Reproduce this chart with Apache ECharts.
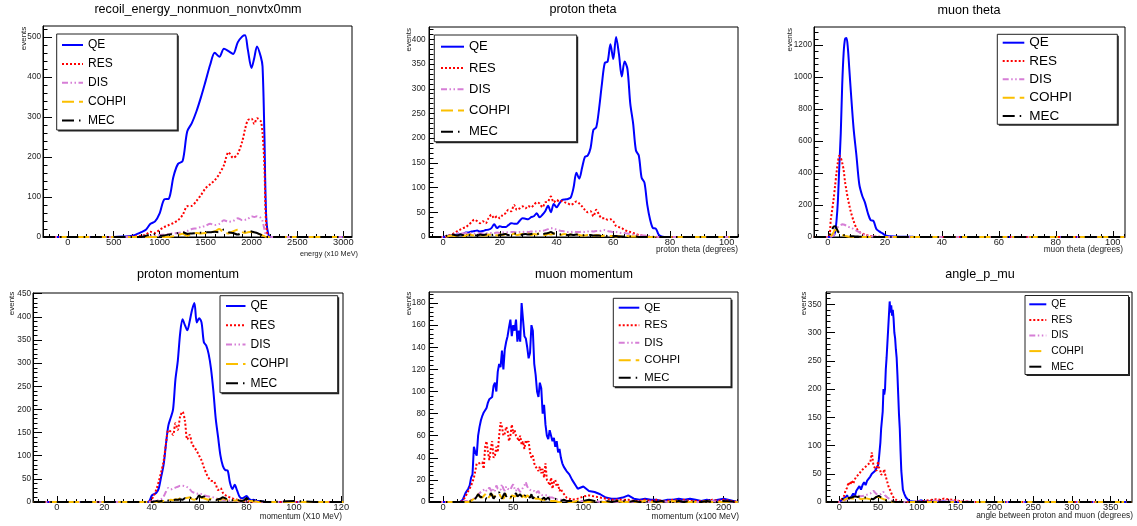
<!DOCTYPE html>
<html>
<head>
<meta charset="utf-8">
<script src="https://cdn.jsdelivr.net/npm/echarts@6/dist/echarts.min.js"></script>
<style>
    html, body {margin: 0; padding: 0; background: #fff;}
    #chart {width: 1137px; height: 526px;}
</style>
</head>
<body>
<div id="chart"></div>
<script>
// ---- data ----
const NAMES = ['QE', 'RES', 'DIS', 'COHPI', 'MEC'];

// recoil_energy_nonmuon_nonvtx0mm
const p1X = [-270, 0, 300, 500, 600, 700, 800, 850, 900, 950, 1000, 1050, 1100, 1150, 1200, 1250, 1300, 1350, 1400, 1450,
    1500, 1550, 1600, 1650, 1700, 1750, 1800, 1850, 1900, 1930, 1960, 2000, 2030, 2060, 2100, 2120, 2140, 2160, 2190, 2250,
    2500, 2800, 3094];
const p1QE = [0, 0, 0, 0, 1, 3, 12, 18, 33, 39, 59, 94, 96, 151, 183, 190, 264, 285, 314, 350,
    390, 431, 461, 451, 471, 465, 458, 487, 502, 505, 469, 423, 448, 477, 452, 427, 260, 51, 3, 0,
    0, 0, 0];
const p1RES = [0, 0, 0, 0, 0, 1, 3, 6, 13, 10, 18, 25, 30, 35, 42, 55, 77, 78, 90, 105,
    122, 132, 142, 158, 180, 212, 198, 208, 240, 270, 292, 296, 283, 297, 290, 260, 180, 30, 0, 0,
    0, 0, 0];
const p1DIS = [0, 0, 0, 0, 0, 0, 1, 2, 3, 3, 5, 6, 8, 9, 10, 12, 15, 20, 22, 25,
    28, 33, 30, 33, 42, 38, 40, 47, 42, 43, 45, 52, 50, 52, 48, 40, 20, 4, 0, 0,
    0, 0, 0];
const p1COHPI = [0, 0, 0, 0, 0, 0, 0, 0, 0, 0, 0, 0, 0, 2, 5, 8, 3, 8, 10, 9,
    10, 12, 14, 20, 10, 9, 14, 18, 12, 10, 12, 13, 10, 8, 6, 4, 2, 0, 0, 0,
    0, 0, 0];
const p1MEC = [0, 0, 0, 0, 0, 0, 0, 3, 6, 7, 3, 4, 6, 8, 10, 12, 8, 9, 10, 11,
    12, 12, 13, 12, 19, 12, 10, 6, 11, 14, 15, 14, 12, 10, 6, 4, 2, 0, 0, 0,
    0, 0, 0];
const p1XTicks = [0, 500, 1000, 1500, 2000, 2500, 3000];
const p1YTicks = [0, 100, 200, 300, 400, 500];

// proton theta
const p2X = [-5,
    0, 1, 2, 3, 4, 5, 6, 7, 8, 9,
    10, 11, 12, 13, 14, 15, 16, 17, 18, 19,
    20, 21, 22, 23, 24, 25, 26, 27, 28, 29,
    30, 31, 32, 33, 34, 35, 36, 37, 38, 39,
    40, 41, 42, 43, 44, 45, 46, 47, 48, 49,
    50, 51, 52, 53, 54, 55, 56, 57, 58, 59,
    60, 61, 62, 63, 64, 65, 66, 67, 68, 69,
    70, 71, 72, 73, 74, 75, 76, 77, 78, 79,
    80, 90, 104];
const p2QE = [0,
    0, 1, 3, 4, 4, 5, 5, 6, 9, 9,
    11, 12, 13, 11, 12, 14, 15, 18, 26, 18,
    22, 20, 20, 24, 28, 27, 27, 33, 38, 37,
    36, 40, 42, 48, 40, 45, 52, 63, 50, 67,
    60, 68, 75, 76, 77, 80, 100, 130, 118, 140,
    162, 165, 180, 217, 222, 260, 310, 352, 355, 390,
    360, 405, 370, 325, 355, 340, 270, 230, 175, 165,
    120, 110, 65, 35, 18, 17, 5, 1, 0, 0,
    0, 0, 0];
const p2RES = [0,
    0, 1, 3, 5, 8, 12, 15, 18, 20, 25,
    30, 35, 32, 28, 32, 28, 38, 45, 38, 42,
    38, 45, 48, 55, 52, 65, 55, 58, 62, 58,
    63, 60, 65, 70, 68, 60, 70, 72, 82, 70,
    75, 72, 73, 70, 68, 65, 68, 72, 68, 62,
    55, 50, 52, 42, 55, 45, 38, 38, 35, 36,
    32, 22, 20, 18, 14, 12, 10, 8, 6, 4,
    3, 2, 1, 0, 0, 0, 0, 0, 0, 0,
    0, 0, 0];
const p2DIS = [0,
    0, 1, 2, 4, 6, 8, 8, 7, 8, 8,
    8, 7, 8, 7, 7, 7, 8, 8, 8, 9,
    8, 9, 10, 9, 10, 10, 9, 10, 10, 11,
    10, 11, 12, 11, 12, 12, 14, 16, 18, 16,
    15, 13, 12, 11, 10, 10, 11, 10, 10, 11,
    10, 11, 12, 11, 12, 12, 13, 14, 12, 11,
    10, 10, 9, 8, 8, 7, 6, 5, 4, 4,
    3, 3, 2, 2, 1, 1, 0, 0, 0, 0,
    0, 0, 0];
const p2COHPI = [0,
    0, 1, 2, 3, 2, 3, 4, 2, 3, 5,
    4, 3, 5, 4, 3, 3, 5, 4, 6, 3,
    5, 4, 6, 5, 4, 7, 4, 5, 6, 5,
    7, 4, 6, 5, 8, 5, 4, 6, 5, 7,
    6, 4, 5, 6, 4, 5, 3, 5, 4, 3,
    3, 4, 3, 2, 4, 3, 2, 3, 2, 2,
    2, 1, 2, 1, 1, 2, 1, 1, 1, 0,
    1, 0, 0, 0, 0, 0, 0, 0, 0, 0,
    0, 0, 0];
const p2MEC = [0,
    0, 2, 4, 5, 4, 3, 5, 4, 5, 4,
    3, 4, 3, 5, 4, 5, 6, 4, 5, 3,
    4, 5, 6, 4, 5, 7, 6, 4, 5, 6,
    5, 6, 7, 5, 8, 6, 7, 8, 10, 7,
    6, 5, 6, 5, 4, 5, 4, 5, 4, 3,
    4, 3, 4, 3, 3, 3, 2, 3, 2, 2,
    2, 2, 1, 1, 1, 1, 1, 0, 1, 0,
    0, 0, 0, 0, 0, 0, 0, 0, 0, 0,
    0, 0, 0];
const p2XTicks = [0, 20, 40, 60, 80, 100];
const p2YTicks = [0, 50, 100, 150, 200, 250, 300, 350, 400];

// muon theta
const p3X = [-5, 0, 1, 2, 2.5, 3, 3.5, 4, 4.5, 5, 5.5, 6, 6.5, 7, 7.5, 8, 9,
    10, 11, 12, 13, 14, 15, 16, 17, 18, 19, 20, 21, 22, 25, 30, 40, 60, 80, 104];
const p3QE = [0, 0, 2, 10, 30, 100, 230, 450, 650, 950, 1150, 1240, 1245, 1180, 1050, 920, 680,
    510, 330, 260, 215, 150, 105, 100, 50, 35, 25, 12, 6, 4, 2, 1, 0, 0, 0, 0];
const p3RES = [0, 0, 110, 240, 320, 400, 470, 508, 495, 465, 420, 345, 290, 240, 198, 160, 100,
    55, 33, 22, 15, 10, 6, 4, 2, 1, 0, 0, 0, 0, 0, 0, 0, 0, 0, 0];
const p3DIS = [0, 0, 2, 10, 30, 50, 62, 70, 75, 80, 78, 75, 70, 65, 62, 60, 50,
    40, 30, 20, 12, 8, 5, 3, 2, 1, 0, 0, 0, 0, 0, 0, 0, 0, 0, 0];
const p3COHPI = [0, 0, 5, 30, 45, 44, 35, 28, 22, 15, 10, 7, 5, 3, 2, 1, 0,
    0, 0, 0, 0, 0, 0, 0, 0, 0, 0, 0, 0, 0, 0, 0, 0, 0, 0, 0];
const p3MEC = [0, 0, 30, 65, 68, 55, 35, 25, 18, 14, 12, 10, 8, 7, 6, 5, 4,
    3, 2, 1, 0, 0, 0, 0, 0, 0, 0, 0, 0, 0, 0, 0, 0, 0, 0, 0];
const p3XTicks = [0, 20, 40, 60, 80, 100];
const p3YTicks = [0, 200, 400, 600, 800, 1000, 1200];

// proton momentum
const p4X = [-10, 0, 20, 36, 38, 39,
    40, 41, 42, 43, 44, 45, 46, 47, 48, 49,
    50, 51, 52, 53, 54, 55, 56, 57, 58, 59,
    60, 61, 62, 63, 64, 65, 66, 67, 68, 69,
    70, 71, 72, 73, 74, 75, 76, 77, 78, 79,
    80, 81, 82, 83, 84, 85, 86, 87, 88,
    90, 100, 110, 121];
const p4QE = [0, 0, 0, 0, 0, 2,
    14, 17, 20, 30, 55, 80, 125, 165, 182, 200,
    265, 305, 365, 395, 382, 371, 390, 415, 430, 388,
    397, 388, 345, 338, 320, 288, 240, 180, 140, 100,
    78, 69, 68, 42, 28, 37, 25, 12, 8, 10,
    13, 7, 4, 5, 3, 2, 1, 1, 0,
    0, 0, 0, 0];
const p4RES = [0, 0, 0, 0, 0, 1,
    6, 15, 28, 45, 65, 88, 125, 155, 152, 145,
    170, 156, 185, 195, 175, 135, 145, 125, 118, 110,
    100, 90, 75, 62, 52, 46, 45, 38, 26, 30,
    20, 15, 12, 10, 8, 6, 5, 4, 3, 2,
    2, 1, 1, 0, 0, 0, 0, 0, 0,
    0, 0, 0, 0];
const p4DIS = [0, 0, 0, 0, 0, 0,
    1, 2, 3, 4, 6, 12, 22, 30, 27, 29,
    31, 33, 35, 35, 34, 32, 28, 22, 20, 18,
    19, 17, 15, 13, 12, 11, 10, 8, 7, 6,
    5, 4, 3, 3, 2, 2, 2, 1, 1, 1,
    1, 0, 0, 0, 0, 0, 0, 0, 0,
    0, 0, 0, 0];
const p4COHPI = [0, 0, 0, 0, 0, 0,
    0, 0, 0, 1, 1, 2, 2, 3, 5, 4,
    6, 5, 8, 7, 8, 9, 10, 6, 5, 8,
    12, 9, 8, 6, 5, 7, 6, 5, 6, 5,
    8, 6, 5, 4, 3, 3, 4, 2, 2, 3,
    5, 2, 2, 1, 1, 0, 0, 0, 0,
    0, 0, 0, 0];
const p4MEC = [0, 0, 0, 0, 0, 0,
    0, 1, 2, 1, 2, 1, 2, 3, 3, 4,
    5, 5, 6, 5, 8, 7, 10, 6, 5, 7,
    14, 10, 12, 8, 6, 5, 5, 4, 6, 7,
    10, 8, 6, 5, 4, 6, 5, 3, 2, 4,
    8, 4, 2, 3, 3, 2, 2, 1, 0,
    0, 2, 0, 0];
const p4XTicks = [0, 20, 40, 60, 80, 100, 120];
const p4YTicks = [0, 50, 100, 150, 200, 250, 300, 350, 400, 450];

// muon momentum
const p5X = [-10, 0, 10, 12, 14, 16, 18,
    19,
    20, 21, 22, 23, 24, 25, 26, 27, 28, 29,
    30, 31, 32, 33, 34, 35, 36, 37, 38, 39,
    40, 41, 42, 43, 44, 45, 46, 47, 48, 49,
    50, 51, 52, 53, 54, 55, 56, 57, 58, 59,
    60, 61, 62, 63, 64, 65, 66, 67, 68, 69,
    70, 71, 72, 73, 74, 75, 76, 77, 78, 79,
    80, 81, 82, 83, 84, 85, 86, 87, 88, 89,
    90,
    92, 96, 100, 104, 108, 112, 116, 120, 124, 128,
    132, 136, 140, 144, 148, 152, 156, 160, 164, 168,
    172, 176, 180, 184, 188, 192, 196, 200,
    210];
const p5QE = [0, 0, 0, 0, 2, 8, 12,
    15,
    22, 25, 50, 45, 42, 60, 68, 74, 78, 81,
    82, 85, 90, 93, 94, 95, 105, 108, 100, 118,
    125, 122, 137, 120, 138, 145, 150, 158, 165, 150,
    160, 155, 165, 145, 155, 145, 180, 165, 150, 148,
    140, 130, 135, 160, 155, 125, 115, 100, 95, 108,
    103, 80, 88, 70, 60, 57, 65, 60, 55, 58,
    50, 55, 45, 48, 40, 35, 32, 30, 28, 27,
    25,
    20, 12, 14, 10, 9, 7, 4, 3, 3, 4,
    6, 3, 2, 3, 2, 2, 1, 2, 2, 3,
    2, 3, 2, 1, 2, 1, 2, 3,
    0];
const p5RES = [0, 0, 0, 0, 1, 5, 10,
    12,
    15, 18, 22, 28, 35, 36, 35, 36, 36, 30,
    50, 55, 45, 38, 48, 55, 40, 42, 50, 45,
    60, 72, 68, 60, 62, 68, 65, 55, 60, 70,
    62, 65, 60, 58, 55, 60, 52, 55, 48, 56,
    53, 55, 45, 40, 42, 35, 32, 30, 28, 32,
    26, 30, 22, 35, 20, 18, 15, 22, 12, 18,
    20, 14, 16, 10, 12, 9, 8, 6, 4, 3,
    3,
    2, 3, 5, 6, 5, 4, 3, 2, 2, 2,
    2, 1, 1, 2, 1, 2, 1, 1, 2, 1,
    2, 1, 1, 1, 1, 2, 1, 2,
    0];
const p5DIS = [0, 0, 0, 0, 0, 1, 1,
    2,
    2, 3, 3, 4, 5, 6, 8, 9, 10, 11,
    12, 10, 11, 13, 14, 9, 12, 10, 15, 12,
    13, 11, 16, 12, 10, 14, 12, 13, 11, 14,
    16, 12, 10, 13, 12, 9, 11, 13, 15, 18,
    14, 12, 11, 10, 9, 10, 8, 9, 10, 7,
    7, 6, 5, 6, 5, 6, 4, 5, 4, 3,
    3, 3, 2, 3, 2, 2, 2, 1, 1, 1,
    1,
    1, 1, 1, 0, 1, 0, 1, 0, 0, 1,
    0, 0, 1, 0, 0, 0, 1, 0, 0, 0,
    1, 0, 0, 0, 0, 1, 0, 0,
    0];
const p5COHPI = [0, 0, 0, 0, 0, 0, 0,
    0,
    1, 2, 3, 5, 6, 7, 5, 6, 4, 5,
    7, 6, 3, 5, 6, 7, 4, 3, 6, 5,
    8, 5, 6, 3, 4, 7, 6, 5, 3, 6,
    7, 5, 4, 6, 7, 5, 3, 6, 5, 4,
    6, 5, 4, 3, 5, 4, 3, 2, 3, 4,
    2, 3, 2, 2, 1, 2, 1, 2, 1, 1,
    1, 1, 0, 1, 0, 1, 0, 0, 1, 0,
    0,
    0, 1, 0, 0, 1, 0, 0, 0, 1, 0,
    0, 0, 0, 1, 0, 0, 0, 0, 1, 0,
    0, 0, 0, 0, 1, 0, 0, 0,
    0];
const p5MEC = [0, 0, 0, 0, 0, 0, 0,
    0,
    1, 2, 1, 3, 5, 7, 6, 4, 3, 6,
    5, 3, 2, 4, 8, 6, 3, 5, 4, 7,
    9, 5, 3, 6, 8, 5, 4, 7, 8, 4,
    3, 6, 8, 5, 4, 7, 6, 3, 5, 7,
    5, 6, 4, 7, 3, 5, 4, 3, 5, 4,
    2, 3, 4, 2, 3, 4, 2, 3, 2, 1,
    3, 2, 1, 2, 1, 1, 2, 1, 1, 0,
    1,
    1, 0, 1, 2, 1, 0, 1, 0, 1, 1,
    0, 1, 0, 0, 1, 0, 1, 0, 0, 1,
    0, 1, 0, 0, 1, 0, 0, 1,
    0];
const p5XTicks = [0, 50, 100, 150, 200];
const p5YTicks = [0, 20, 40, 60, 80, 100, 120, 140, 160, 180];

// angle_p_mu
const p6X = [-17,
    0, 2, 4, 6, 8, 10, 12, 14, 16, 18,
    20, 22, 24, 26, 28, 30, 32, 34, 36, 38,
    40, 42, 44, 46, 48, 50,
    51, 52, 53, 54, 55, 56, 57, 58, 59, 60,
    61, 62, 63, 64, 65, 66, 67, 68, 69, 70,
    71, 72, 73, 74, 75, 76, 77, 78, 79, 80,
    82, 84, 86, 88, 90,
    95, 100, 105, 110, 115, 120, 125, 130, 135, 140,
    145, 150, 155, 160, 165, 170, 175, 180,
    200, 250, 300, 350, 377];
const p6QE = [0,
    0, 1, 5, 4, 8, 12, 5, 6, 10, 15,
    10, 20, 18, 28, 22, 30, 35, 30, 38, 40,
    45, 50, 48, 55, 58, 65,
    75, 90, 105, 130, 128, 160, 200, 190, 200, 235,
    255, 280, 305, 330, 355, 335, 348, 330, 340, 325,
    300, 290, 270, 255, 225, 190, 155, 130, 90, 55,
    22, 14, 8, 5, 2,
    1, 0, 3, 1, 2, 1, 2, 1, 1, 0,
    1, 0, 0, 0, 0, 0, 0, 0,
    0, 0, 0, 0, 0];
const p6RES = [0,
    0, 3, 6, 10, 20, 25, 35, 30, 38, 32,
    40, 45, 42, 50, 55, 52, 60, 58, 65, 62,
    70, 88, 65, 60, 55, 72,
    62, 60, 55, 48, 46, 45, 52, 58, 50, 45,
    40, 35, 30, 25, 22, 20, 16, 14, 10, 8,
    6, 5, 4, 3, 2, 2, 1, 1, 0, 0,
    0, 0, 0, 0, 0,
    0, 1, 1, 2, 3, 4, 5, 4, 6, 5,
    4, 3, 2, 1, 1, 0, 0, 0,
    0, 0, 0, 0, 0];
const p6DIS = [0,
    0, 1, 2, 3, 4, 5, 6, 7, 8, 9,
    10, 9, 11, 12, 10, 10, 11, 12, 13, 14,
    15, 17, 20, 22, 14, 12,
    13, 14, 15, 14, 15, 16, 18, 17, 12, 10,
    9, 8, 7, 6, 5, 4, 4, 3, 3, 3,
    2, 2, 2, 1, 1, 1, 1, 0, 0, 0,
    0, 0, 0, 0, 0,
    0, 0, 1, 1, 1, 2, 2, 2, 3, 3,
    2, 2, 2, 1, 1, 0, 0, 0,
    0, 0, 0, 0, 0];
const p6COHPI = [0,
    0, 1, 2, 3, 5, 5, 7, 8, 6, 7,
    6, 5, 8, 6, 5, 5, 6, 4, 6, 5,
    5, 6, 7, 8, 9, 10,
    9, 8, 8, 7, 8, 6, 5, 4, 4, 4,
    3, 3, 2, 2, 2, 1, 1, 1, 0, 0,
    0, 0, 0, 0, 0, 0, 0, 0, 0, 0,
    0, 0, 0, 0, 0,
    0, 0, 0, 0, 0, 0, 0, 0, 0, 0,
    0, 0, 0, 0, 0, 0, 0, 0,
    0, 0, 0, 0, 0];
const p6MEC = [0,
    0, 3, 5, 6, 8, 8, 7, 6, 8, 9,
    10, 8, 9, 8, 10, 10, 8, 7, 8, 6,
    6, 5, 5, 6, 9, 12,
    11, 10, 9, 8, 6, 5, 4, 3, 3, 3,
    2, 2, 2, 2, 2, 1, 1, 1, 1, 0,
    0, 0, 0, 0, 0, 0, 0, 0, 0, 0,
    0, 0, 0, 0, 0,
    0, 0, 0, 0, 0, 0, 0, 0, 0, 0,
    0, 0, 0, 0, 0, 0, 0, 0,
    0, 0, 0, 0, 0];
const p6XTicks = [0, 50, 100, 150, 200, 250, 300, 350];
const p6YTicks = [0, 50, 100, 150, 200, 250, 300, 350];

// ---- styling ----
const FONT = 'Liberation Sans, Arial, sans-serif';
const COLORS = ['#0000ff', '#ff0000', '#d67ed6', '#fbbf00', '#000000'];
const DASHES = ['solid', [2, 2], [6, 2.5, 1.5, 2.5, 1.5, 2.5], [12, 5], [12, 5, 1.5, 5]];

// minor tick positions
function steps(a, b, s) {
    let out = [];
    for (let v = a; v <= b + 1e-9; v += s) out.push(Math.round(v * 1000) / 1000);
    return out;
}

const panels = [
    {
        title: 'recoil_energy_nonmuon_nonvtx0mm', titlePos: [198, 10],
        x: p1X, ys: [p1QE, p1RES, p1DIS, p1COHPI, p1MEC], smooth: 0.3,
        grid: [43, 26, 309, 211], xRange: [-270, 3094], yMax: 528,
        xTicks: p1XTicks, xMinor: steps(-200, 3000, 100), yTicks: p1YTicks, yMinor: steps(0, 520, 20),
        yMargin: 2,
        xTitle: 'energy (x10 MeV)', xTitlePos: [358, 254], xTitleSize: 7.3, yTitlePos: [23.5, 26.7],
        legend: {box: [56.7, 34, 177.3, 130], left: 61, iconW: 21, firstY: 45, step: 18.9, font: 12}
    },
    {
        title: 'proton theta', titlePos: [583, 10],
        x: p2X, ys: [p2QE, p2RES, p2DIS, p2COHPI, p2MEC], smooth: 0.3,
        grid: [429, 27, 309, 210], xRange: [-5, 104], yMax: 425,
        xTicks: p2XTicks, xMinor: steps(-4, 104, 4), yTicks: p2YTicks, yMinor: steps(0, 420, 10),
        yMargin: 3.5,
        xTitle: 'proton theta (degrees)', xTitlePos: [738, 250], xTitleSize: 8.3, yTitlePos: [408.3, 28],
        legend: {box: [434.3, 35, 576.7, 141.7], left: 440, iconW: 23, firstY: 46.7, step: 21.25, font: 13}
    },
    {
        title: 'muon theta', titlePos: [969, 10.5],
        x: p3X, ys: [p3QE, p3RES, p3DIS, p3COHPI, p3MEC], smooth: 0.3,
        grid: [814, 27, 311, 210], xRange: [-4.9, 104.3], yMax: 1314,
        xTicks: p3XTicks, xMinor: steps(-4, 104, 4), yTicks: p3YTicks, yMinor: steps(0, 1280, 40),
        yMargin: 2,
        xTitle: 'muon theta (degrees)', xTitlePos: [1123, 250], xTitleSize: 8.3, yTitlePos: [789.3, 28],
        legend: {box: [997.3, 34.3, 1117.3, 124.3], left: 1001.7, iconW: 21.6, firstY: 42.7, step: 18.33, font: 13.5}
    },
    {
        title: 'proton momentum', titlePos: [188, 274.5],
        x: p4X, ys: [p4QE, p4RES, p4DIS, p4COHPI, p4MEC], smooth: 0.3,
        grid: [33, 293, 310, 209], xRange: [-10.1, 120.7], yMax: 451.5,
        xTicks: p4XTicks, xMinor: steps(-8, 120, 4), yTicks: p4YTicks, yMinor: steps(0, 450, 10),
        yMargin: 2,
        xTitle: 'momentum (X10 MeV)', xTitlePos: [342, 516.5], xTitleSize: 8.2, yTitlePos: [11.7, 291.7],
        legend: {box: [220, 295.7, 337.7, 392.7], left: 225, iconW: 19.5, firstY: 306, step: 19.3, font: 12}
    },
    {
        title: 'muon momentum', titlePos: [584, 275],
        x: p5X, ys: [p5QE, p5RES, p5DIS, p5COHPI, p5MEC], smooth: false,
        grid: [429, 292, 309, 210], xRange: [-10, 210.2], yMax: 190,
        xTicks: p5XTicks, xMinor: steps(-10, 210, 10), yTicks: p5YTicks, yMinor: steps(0, 188, 4),
        yMargin: 3.5,
        xTitle: 'momentum (x100 MeV)', xTitlePos: [739, 516.5], xTitleSize: 8.4, yTitlePos: [409, 291.7],
        legend: {box: [613.3, 298.3, 731, 386.7], left: 617.7, iconW: 20.6, firstY: 307.7, step: 17.5, font: 11.3}
    },
    {
        title: 'angle_p_mu', titlePos: [980, 274.5],
        x: p6X, ys: [p6QE, p6RES, p6DIS, p6COHPI, p6MEC], smooth: false,
        grid: [826, 292, 306, 210], xRange: [-17.1, 377.4], yMax: 371.7,
        xTicks: p6XTicks, xMinor: steps(-10, 370, 10), yTicks: p6YTicks, yMinor: steps(0, 370, 10),
        yMargin: 4.5,
        xTitle: 'angle between proton and muon (degrees)', xTitlePos: [1133, 516], xTitleSize: 8.3, yTitlePos: [804, 291.7],
        legend: {box: [1025, 295.5, 1128.5, 374.5], left: 1028.3, iconW: 17, firstY: 304.3, step: 15.6, font: 10.2}
    }
];

let option = {
    animation: false,
    backgroundColor: '#ffffff',
    textStyle: {fontFamily: FONT},
    grid: [], xAxis: [], yAxis: [], legend: [], series: [],
    graphic: {elements: []}
};
const G = option.graphic.elements;

function plainAxis(gridIndex, pos, min, max) {
    return {
        type: 'value', gridIndex: gridIndex, position: pos, offset: 0, min: min, max: max,
        axisLine: {show: false, onZero: false},
        axisTick: {show: false},
        axisLabel: {show: false},
        splitLine: {show: false}
    };
}

panels.forEach((p, i) => {
    const [gl, gt, gw, gh] = p.grid;
    option.grid.push({
        left: gl, top: gt, width: gw, height: gh,
        show: true, borderColor: '#000', borderWidth: 1, backgroundColor: '#fff'
    });

    // x: major ticks + labels, then minor ticks
    const xi = option.xAxis.length;
    let xMain = plainAxis(i, 'bottom', p.xRange[0], p.xRange[1]);
    xMain.axisLine = {show: true, onZero: false, lineStyle: {color: '#000', width: 1}};
    xMain.axisTick = {show: true, inside: true, length: 6, customValues: p.xTicks, lineStyle: {color: '#000', width: 1}};
    xMain.axisLabel = {
        show: true, customValues: p.xTicks, margin: 1, fontSize: 9.3, color: '#222', fontFamily: FONT,
        formatter: v => String(v)
    };
    option.xAxis.push(xMain);
    let xMin = plainAxis(i, 'bottom', p.xRange[0], p.xRange[1]);
    xMin.axisTick = {show: true, inside: true, length: 3, customValues: p.xMinor, lineStyle: {color: '#000', width: 1}};
    option.xAxis.push(xMin);

    // y: major ticks + labels, then minor ticks
    const yi = option.yAxis.length;
    let yMain = plainAxis(i, 'left', 0, p.yMax);
    yMain.axisLine = {show: true, onZero: false, lineStyle: {color: '#000', width: 1}};
    yMain.axisTick = {show: true, inside: true, length: 9, customValues: p.yTicks, lineStyle: {color: '#000', width: 1}};
    yMain.axisLabel = {
        show: true, customValues: p.yTicks, margin: p.yMargin, fontSize: 8.2, color: '#222', fontFamily: FONT,
        formatter: v => String(v)
    };
    option.yAxis.push(yMain);
    let yMin = plainAxis(i, 'left', 0, p.yMax);
    yMin.axisTick = {show: true, inside: true, length: 4.5, customValues: p.yMinor, lineStyle: {color: '#000', width: 1}};
    option.yAxis.push(yMin);

    NAMES.forEach((nm, j) => {
        option.series.push({
            type: 'line', name: nm, xAxisIndex: xi, yAxisIndex: yi,
            data: p.x.map((xv, k) => [xv, p.ys[j][k]]),
            symbol: 'none', showSymbol: false, smooth: p.smooth, silent: true,
            lineStyle: {color: COLORS[j], width: 2, type: DASHES[j]},
            itemStyle: {color: COLORS[j]},
            emphasis: {disabled: true}
        });
    });

    // legend box with ROOT-like shadow
    const L = p.legend;
    const bw = L.box[2] - L.box[0], bh = L.box[3] - L.box[1];
    G.push({type: 'rect', z: 10, shape: {x: L.box[0] + 1.5, y: L.box[1] + 1.5, width: bw, height: bh}, style: {fill: '#222'}});
    G.push({type: 'rect', z: 11, shape: {x: L.box[0], y: L.box[1], width: bw, height: bh}, style: {fill: '#fff', stroke: '#222', lineWidth: 1}});
    option.legend.push({
        data: NAMES, orient: 'vertical', left: L.left, top: L.firstY - L.step / 2,
        itemWidth: L.iconW, itemHeight: 2, itemGap: 0, padding: 0, selectedMode: false, z: 20,
        // hide the marker dot, keep only the line sample
        itemStyle: {color: 'rgba(0,0,0,0)', borderColor: 'rgba(0,0,0,0)', borderWidth: 0},
        textStyle: {fontSize: L.font, lineHeight: L.step, color: '#000', fontFamily: FONT}
    });

    // titles
    G.push({
        type: 'text', z: 30, x: p.titlePos[0], y: p.titlePos[1],
        style: {text: p.title, fill: '#000', fontSize: 12.6, fontFamily: FONT, align: 'center', verticalAlign: 'middle'}
    });
    G.push({
        type: 'text', z: 30, x: p.xTitlePos[0], y: p.xTitlePos[1],
        style: {text: p.xTitle, fill: '#222', fontSize: p.xTitleSize, fontFamily: FONT, align: 'right', verticalAlign: 'middle'}
    });
    G.push({
        type: 'text', z: 30, x: p.yTitlePos[0], y: p.yTitlePos[1], rotation: Math.PI / 2,
        style: {text: 'events', fill: '#222', fontSize: 8, fontFamily: FONT, align: 'right', verticalAlign: 'middle'}
    });
});

const chart = echarts.init(document.getElementById('chart'), null, {renderer: 'canvas'});
chart.setOption(option);
</script>
</body>
</html>
